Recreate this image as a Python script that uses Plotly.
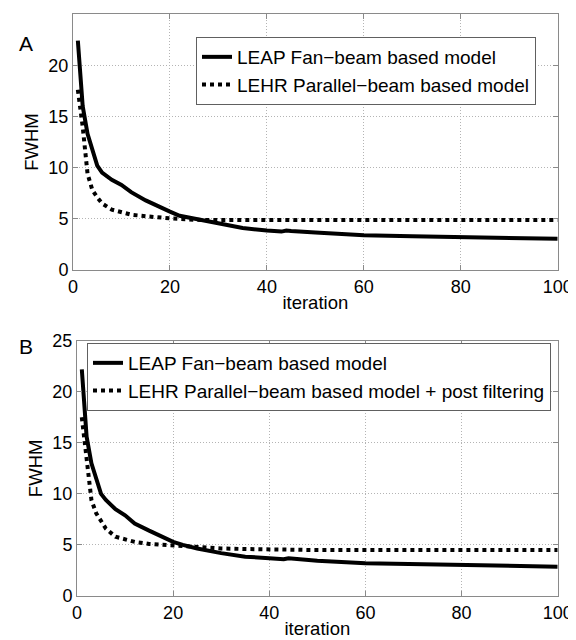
import plotly.graph_objects as go

# ---- data ----
iters = [1, 2, 3, 4, 5, 6, 8, 10, 12, 15, 18, 20, 22, 25, 30, 35, 40, 43, 44, 45, 50, 60, 70, 80, 90, 100]

fanA = [22.4, 16.0, 13.3, 11.7, 10.2, 9.5, 8.8, 8.3, 7.6, 6.8, 6.1, 5.7, 5.3, 5.0, 4.5, 4.1, 3.85, 3.75, 3.85, 3.8, 3.65, 3.4, 3.3, 3.2, 3.12, 3.05]
parA = [17.6, 14.0, 9.4, 7.8, 7.1, 6.5, 5.9, 5.6, 5.4, 5.25, 5.1, 5.05, 5.0, 4.9, 4.88, 4.88, 4.88, 4.88, 4.88, 4.88, 4.88, 4.88, 4.88, 4.88, 4.88, 4.88]

fanB = [22.2, 15.6, 13.0, 11.4, 10.0, 9.4, 8.5, 7.9, 7.1, 6.4, 5.7, 5.3, 5.0, 4.65, 4.2, 3.85, 3.7, 3.6, 3.7, 3.65, 3.45, 3.2, 3.1, 3.02, 2.95, 2.87]
parB = [17.5, 13.3, 9.4, 8.1, 7.3, 6.6, 5.8, 5.5, 5.3, 5.1, 5.0, 4.9, 4.85, 4.75, 4.65, 4.6, 4.55, 4.55, 4.55, 4.52, 4.5, 4.5, 4.5, 4.5, 4.5, 4.5]

labelsA = ["LEAP Fan\u2212beam based model", "LEHR Parallel\u2212beam based model"]
labelsB = ["LEAP Fan\u2212beam based model", "LEHR Parallel\u2212beam based model + post filtering"]

# the page body has an 8px default margin, so the figure is 8px smaller
OFF = 8
W, H = 576 - OFF, 640 - OFF
FONT = "Liberation Sans, Arial, Helvetica, sans-serif"

fig = go.Figure()
fig.add_trace(go.Scatter(x=iters, y=fanA, mode="lines", name=labelsA[0],
                         line=dict(color="black", width=4), xaxis="x", yaxis="y", legend="legend"))
fig.add_trace(go.Scatter(x=iters, y=parA, mode="lines", name=labelsA[1],
                         line=dict(color="black", width=4, dash="dot"), xaxis="x", yaxis="y", legend="legend"))
fig.add_trace(go.Scatter(x=iters, y=fanB, mode="lines", name=labelsB[0],
                         line=dict(color="black", width=4), xaxis="x2", yaxis="y2", legend="legend2"))
fig.add_trace(go.Scatter(x=iters, y=parB, mode="lines", name=labelsB[1],
                         line=dict(color="black", width=4, dash="dot"), xaxis="x2", yaxis="y2", legend="legend2"))

def px_x(v):
    return (v - OFF) / W

def px_y(v):
    return 1 - (v - OFF) / H

axis_common = dict(
    showline=True, linecolor="#8a8a8a", linewidth=1, mirror="allticks",
    ticks="inside", ticklen=5, tickcolor="#8a8a8a",
    showgrid=True, gridcolor="#b4b4b4", griddash="1px,2px", gridwidth=1,
    zeroline=False, tickfont=dict(family=FONT, size=18, color="black"),
)

fig.update_layout(
    width=W, height=H,
    margin=dict(l=0, r=0, t=0, b=0, autoexpand=False),
    paper_bgcolor="white", plot_bgcolor="white",
    font=dict(family=FONT, size=18, color="black"),
    xaxis=dict(domain=[px_x(73), px_x(557.7)], anchor="y", range=[0, 100], dtick=20,
               title=dict(text="iteration", standoff=0, font=dict(size=18.5)), **axis_common),
    yaxis=dict(domain=[px_y(270), px_y(14)], anchor="x", range=[0, 25], dtick=5,
               title=dict(text="FWHM", standoff=4, font=dict(size=18.5)), **axis_common),
    xaxis2=dict(domain=[px_x(77), px_x(557.7)], anchor="y2", range=[0, 100], dtick=20,
                title=dict(text="iteration", standoff=0, font=dict(size=18.5)), **axis_common),
    yaxis2=dict(domain=[px_y(596), px_y(340.7)], anchor="x2", range=[0, 25], dtick=5,
                title=dict(text="FWHM", standoff=4, font=dict(size=18.5)), **axis_common),
    legend=dict(x=px_x(196), y=px_y(37), xanchor="left", yanchor="top",
                bordercolor="#606060", borderwidth=1, bgcolor="white",
                font=dict(family=FONT, size=19), tracegroupgap=0, itemwidth=30),
    legend2=dict(x=px_x(87), y=px_y(343), xanchor="left", yanchor="top",
                 bordercolor="#606060", borderwidth=1, bgcolor="white",
                 font=dict(family=FONT, size=19), tracegroupgap=0, itemwidth=30),
    showlegend=True,
    annotations=[
        dict(text="A", x=px_x(17), y=px_y(30), xref="paper", yref="paper",
             showarrow=False, font=dict(family=FONT, size=21)),
        dict(text="B", x=px_x(17), y=px_y(346), xref="paper", yref="paper",
             showarrow=False, font=dict(family=FONT, size=21)),
    ],
)

fig.write_html("out.html")
